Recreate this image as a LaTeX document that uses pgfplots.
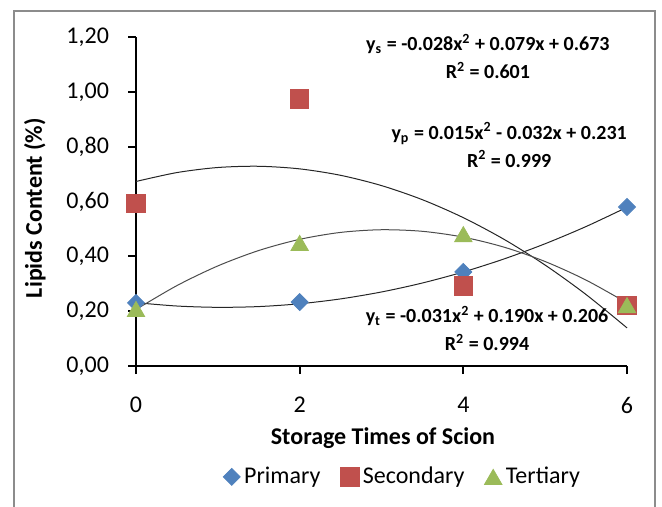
\documentclass[border=0pt]{standalone}
\usepackage{fontspec}
\setmainfont{Carlito}
\usepackage{pgfplots}
\pgfplotsset{compat=1.18}
\definecolor{primBlue}{HTML}{4F81BD}
\definecolor{secRed}{HTML}{C0504D}
\definecolor{terGreen}{HTML}{9BBB59}
\definecolor{frameGray}{HTML}{8C8C8C}

\begin{document}
\begin{tikzpicture}
\useasboundingbox (0,0) rectangle (331pt,253.5pt);
\draw[frameGray, line width=1.1pt] (7pt,-5pt) -- (7pt,248pt) -- (327.5pt,248pt) -- (327.5pt,-5pt);
\begin{axis}[
  at={(68pt,70.5pt)}, anchor=south west,
  scale only axis, width=245.5pt, height=164.5pt,
  xmin=0, xmax=6, ymin=0, ymax=1.2,
  xtick={0,2,4,6}, ytick={0,0.2,...,1.21},
  axis x line*=bottom, axis y line*=left,
  axis line style={-, line width=1pt, black},
  tick style={line width=1pt, black},
  tick align=outside, major tick length=4pt,
  clip=false,
  font=\fontsize{12}{14}\selectfont,
  /pgf/number format/assume math mode=true,
  yticklabel style={/pgf/number format/fixed, /pgf/number format/fixed zerofill,
    /pgf/number format/precision=2, /pgf/number format/use comma, xshift=-6pt},
  xticklabel style={yshift=-8pt},
  xlabel={\bfseries Storage Times of Scion},
  ylabel={\bfseries Lipids Content (\%)},
  xlabel style={at={(axis description cs:0.503,-0.219)}, anchor=center},
  ylabel style={at={(axis description cs:-0.206,0.48)}, anchor=center},
  legend columns=3,
  legend style={draw=none, at={(axis description cs:0.545,-0.337)}, anchor=center,
    font=\fontsize{12}{14}\selectfont,
    /tikz/every even column/.append style={column sep=8pt}},
  legend cell align=left,
]
% data points
\addplot[only marks, mark=square*, mark size=3pt, mark options={rotate=45, fill=primBlue, draw=primBlue}]
  coordinates {(0,0.23) (2,0.233) (4,0.343) (6,0.58)};
\addlegendentry{Primary}
\addplot[only marks, mark=square*, mark size=4.6pt, mark options={fill=secRed, draw=secRed}]
  coordinates {(0,0.594) (2,0.974) (4,0.292) (6,0.222)};
\addlegendentry{Secondary}
\addplot[only marks, mark=triangle*, mark size=5pt, mark options={fill=terGreen, draw=terGreen, yshift=-1.25pt}]
  coordinates {(0,0.208) (2,0.449) (4,0.481) (6,0.222)};
\addlegendentry{Tertiary}
% polynomial trendlines (values of the fitted equations)
\addplot[forget plot, smooth, black!85, line width=0.5pt] coordinates {
  (0,0.673) (0.5,0.7055) (1,0.724) (1.5,0.7285) (2,0.719) (2.5,0.6955) (3,0.658)
  (3.5,0.6065) (4,0.541) (4.5,0.4615) (5,0.368) (5.5,0.2605) (6,0.139)};
\addplot[forget plot, smooth, black!85, line width=0.5pt] coordinates {
  (0,0.231) (0.5,0.21875) (1,0.214) (1.5,0.21675) (2,0.227) (2.5,0.24475) (3,0.27)
  (3.5,0.30275) (4,0.343) (4.5,0.39075) (5,0.446) (5.5,0.50875) (6,0.579)};
\addplot[forget plot, smooth, black!70, line width=0.5pt] coordinates {
  (0,0.206) (0.5,0.29325) (1,0.365) (1.5,0.42125) (2,0.462) (2.5,0.48725) (3,0.497)
  (3.5,0.49125) (4,0.47) (4.5,0.43325) (5,0.381) (5.5,0.31325) (6,0.23)};
% trendline labels
\node[font=\fontsize{10}{12}\selectfont\bfseries, align=center, inner sep=0pt] at (axis cs:4.30,1.128)
  {y\textsubscript{s} = -0.028x\textsuperscript{2} + 0.079x + 0.673\\[2pt] R\textsuperscript{2} = 0.601};
\node[font=\fontsize{10}{12}\selectfont\bfseries, align=center, inner sep=0pt] at (axis cs:4.56,0.806)
  {y\textsubscript{p} = 0.015x\textsuperscript{2} - 0.032x + 0.231\\[2pt] R\textsuperscript{2} = 0.999};
\node[font=\fontsize{10}{12}\selectfont\bfseries, align=center, inner sep=0pt] at (axis cs:4.29,0.137)
  {y\textsubscript{t} = -0.031x\textsuperscript{2} + 0.190x + 0.206\\[2pt] R\textsuperscript{2} = 0.994};
\end{axis}
\end{tikzpicture}
\end{document}
